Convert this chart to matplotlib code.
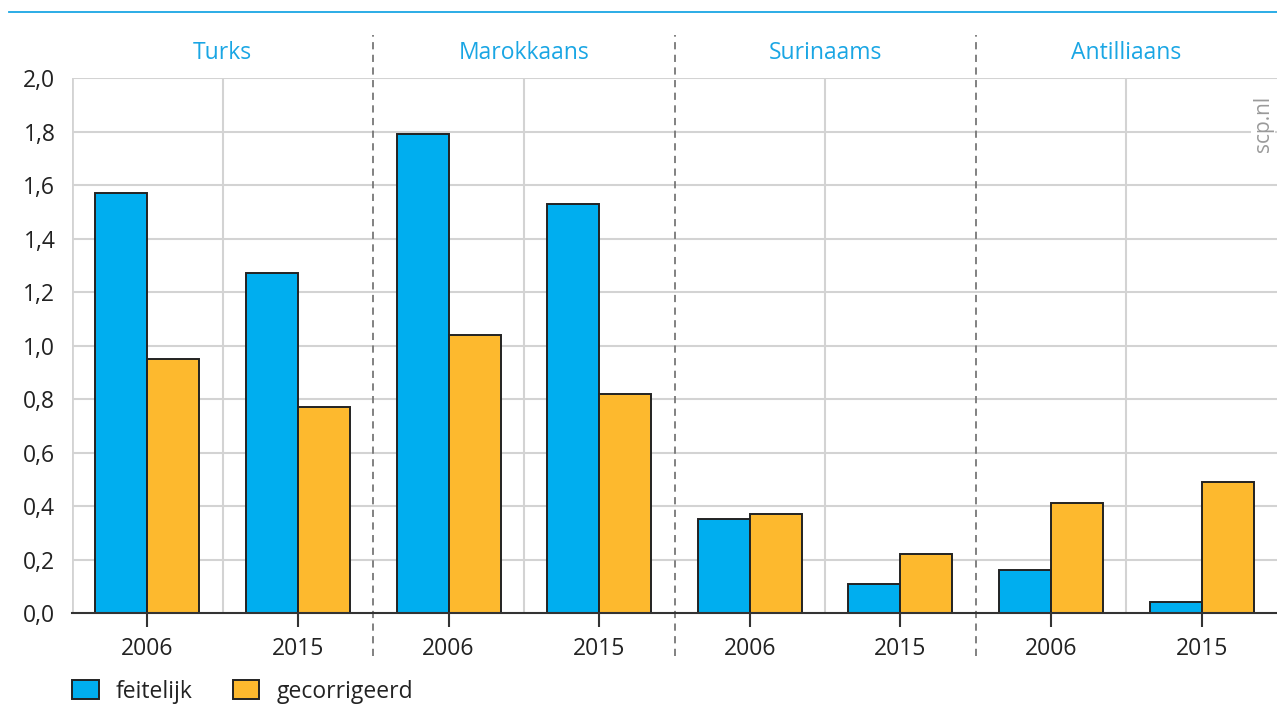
import matplotlib.pyplot as plt
import numpy as np
from matplotlib.patches import Patch

plt.rcParams['font.family'] = ['Open Sans', 'DejaVu Sans']

groups = ["Turks", "Marokkaans", "Surinaams", "Antilliaans"]
years = ["2006", "2015"]
feitelijk = [1.57, 1.27, 1.79, 1.53, 0.35, 0.11, 0.16, 0.04]
gecorrigeerd = [0.95, 0.77, 1.04, 0.82, 0.37, 0.22, 0.41, 0.49]
y_ticks = [0.0, 0.2, 0.4, 0.6, 0.8, 1.0, 1.2, 1.4, 1.6, 1.8, 2.0]

blue = "#00AEEF"
orange = "#FDB92E"
title_blue = "#1AA6E4"
edge = "#222222"

fig = plt.figure(figsize=(12.77, 7.10), dpi=100)
ax = fig.add_axes([0.0564, 0.1366, 1 - 0.0564, 0.890 - 0.1366])

x = np.arange(len(feitelijk))
w = 0.345
ax.bar(x - w / 2, feitelijk, w, color=blue, edgecolor=edge, linewidth=1.4, zorder=3)
ax.bar(x + w / 2, gecorrigeerd, w, color=orange, edgecolor=edge, linewidth=1.4, zorder=3)

ax.set_xlim(-0.5, len(x) - 0.5)
ax.set_ylim(0, 2.0)

# gridlines
for t in y_ticks[1:]:
    ax.axhline(t, color="#d3d3d3", lw=1.5, zorder=1)
for g in range(len(groups)):
    ax.axvline(2 * g + 0.5, color="#d3d3d3", lw=1.5, zorder=1)
ax.axvline(-0.5, color="#d3d3d3", lw=2, zorder=1)
for g in range(1, len(groups)):
    ax.axvline(2 * g - 0.5, ymin=-0.08, ymax=1.08, color="#777777", lw=1.3,
               ls=(0, (4, 3)), zorder=2, clip_on=False)

for g, name in enumerate(groups):
    ax.text(2 * g + 0.5, 1.047, name, transform=ax.get_xaxis_transform(),
            ha="center", va="center", color=title_blue, fontsize=16.5)

ax.set_yticks(y_ticks)
ax.set_yticklabels([f"{t:.1f}".replace(".", ",") for t in y_ticks])
ax.set_xticks(x)
ax.set_xticklabels(years * len(groups))
ax.tick_params(axis="y", length=0, pad=12, labelsize=16.5, labelcolor="#222222")
ax.tick_params(axis="x", length=10, width=1.5, color="#333333", pad=7,
               labelsize=16.5, labelcolor="#222222")

for s in ["top", "right", "left"]:
    ax.spines[s].set_visible(False)
ax.spines["bottom"].set_color("#333333")
ax.spines["bottom"].set_linewidth(1.5)
ax.spines["bottom"].set_zorder(4)

ax.text(0.9885, 0.915, "scp.nl", transform=ax.transAxes, rotation=90,
        ha="center", va="center", color="#9a9a9a", fontsize=15,
        bbox=dict(facecolor="white", edgecolor="none", pad=1), zorder=5)

# top rule
fig.add_artist(plt.Line2D([9 / 1277, 1], [1 - 12 / 710, 1 - 12 / 710],
                          color=title_blue, lw=1.3))

handles = [Patch(facecolor=blue, edgecolor=edge, linewidth=1.4),
           Patch(facecolor=orange, edgecolor=edge, linewidth=1.4)]
fig.legend(handles, ["feitelijk", "gecorrigeerd"], loc="center left",
           bbox_to_anchor=(0.044, 0.026), ncol=2, frameon=False, fontsize=16.5,
           handlelength=1.15, handleheight=0.85, handletextpad=0.75,
           columnspacing=1.75, labelcolor="#222222", borderpad=0.2)

fig.savefig("out.png", dpi=100)
